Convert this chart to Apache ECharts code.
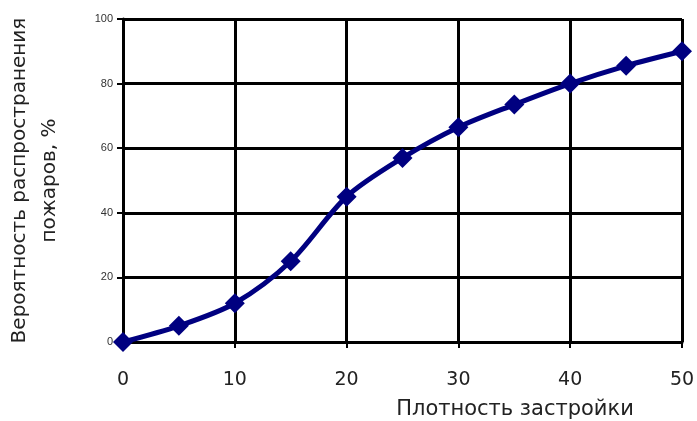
<!DOCTYPE html>
<html>
<head>
<meta charset="utf-8">
<script src="https://cdn.jsdelivr.net/npm/echarts@6/dist/echarts.min.js"></script>
<style>html,body{margin:0;padding:0;background:#fff}#c{width:697px;height:421px}</style>
</head>
<body>
<div id="c"></div>
<script>
const density = [0, 5, 10, 15, 20, 25, 30, 35, 40, 45, 50];
const probability = [0, 5, 12, 25, 45, 57, 66.5, 73.5, 80, 85.5, 90];
const xTicks = [0, 10, 20, 30, 40, 50];
const yTicks = [0, 20, 40, 60, 80, 100];

const chart = echarts.init(document.getElementById('c'));
chart.setOption({
  animation: false,
  title: {
    text: 'Плотность застройки',
    left: 510, top: 394, textAlign: 'center',
    textStyle: {fontFamily: 'DejaVu Sans', fontSize: 21, fontWeight: 'normal', color: '#222'}
  },
  grid: {left: 123, right: 15, top: 19, bottom: 79, containLabel: false, outerBoundsMode: 'none'},
  xAxis: {
    type: 'value', min: 0, max: 50, interval: 10,
    axisLine: {lineStyle: {color: '#000', width: 3}},
    axisTick: {show: true, length: 6, lineStyle: {color: '#000', width: 2}},
    axisLabel: {margin: 29, fontFamily: 'DejaVu Sans', fontSize: 19, color: '#222',
      formatter: v => xTicks.includes(v) ? String(v) : ''},
    splitLine: {show: true, lineStyle: {color: '#000', width: 3}}
  },
  yAxis: {
    type: 'value', min: 0, max: 100, interval: 20,
    name: 'Вероятность распространения\nпожаров, %',
    nameLocation: 'middle', nameRotate: 90, nameGap: 58,
    nameTextStyle: {fontFamily: 'DejaVu Sans', fontSize: 20, color: '#222', lineHeight: 30},
    axisLine: {show: true, lineStyle: {color: '#000', width: 3}},
    axisTick: {show: true, length: 6, lineStyle: {color: '#000', width: 2}},
    axisLabel: {margin: 10, fontFamily: 'Liberation Sans', fontSize: 11, color: '#333',
      formatter: v => yTicks.includes(v) ? String(v) : ''},
    splitLine: {show: true, lineStyle: {color: '#000', width: 3}}
  },
  series: [{
    type: 'line',
    data: density.map((d, i) => [d, probability[i]]),
    smooth: 0.3,
    symbol: 'diamond', symbolSize: 20,
    lineStyle: {color: '#000080', width: 5},
    itemStyle: {color: '#000080'},
    clip: false
  }]
});
</script>
</body>
</html>
